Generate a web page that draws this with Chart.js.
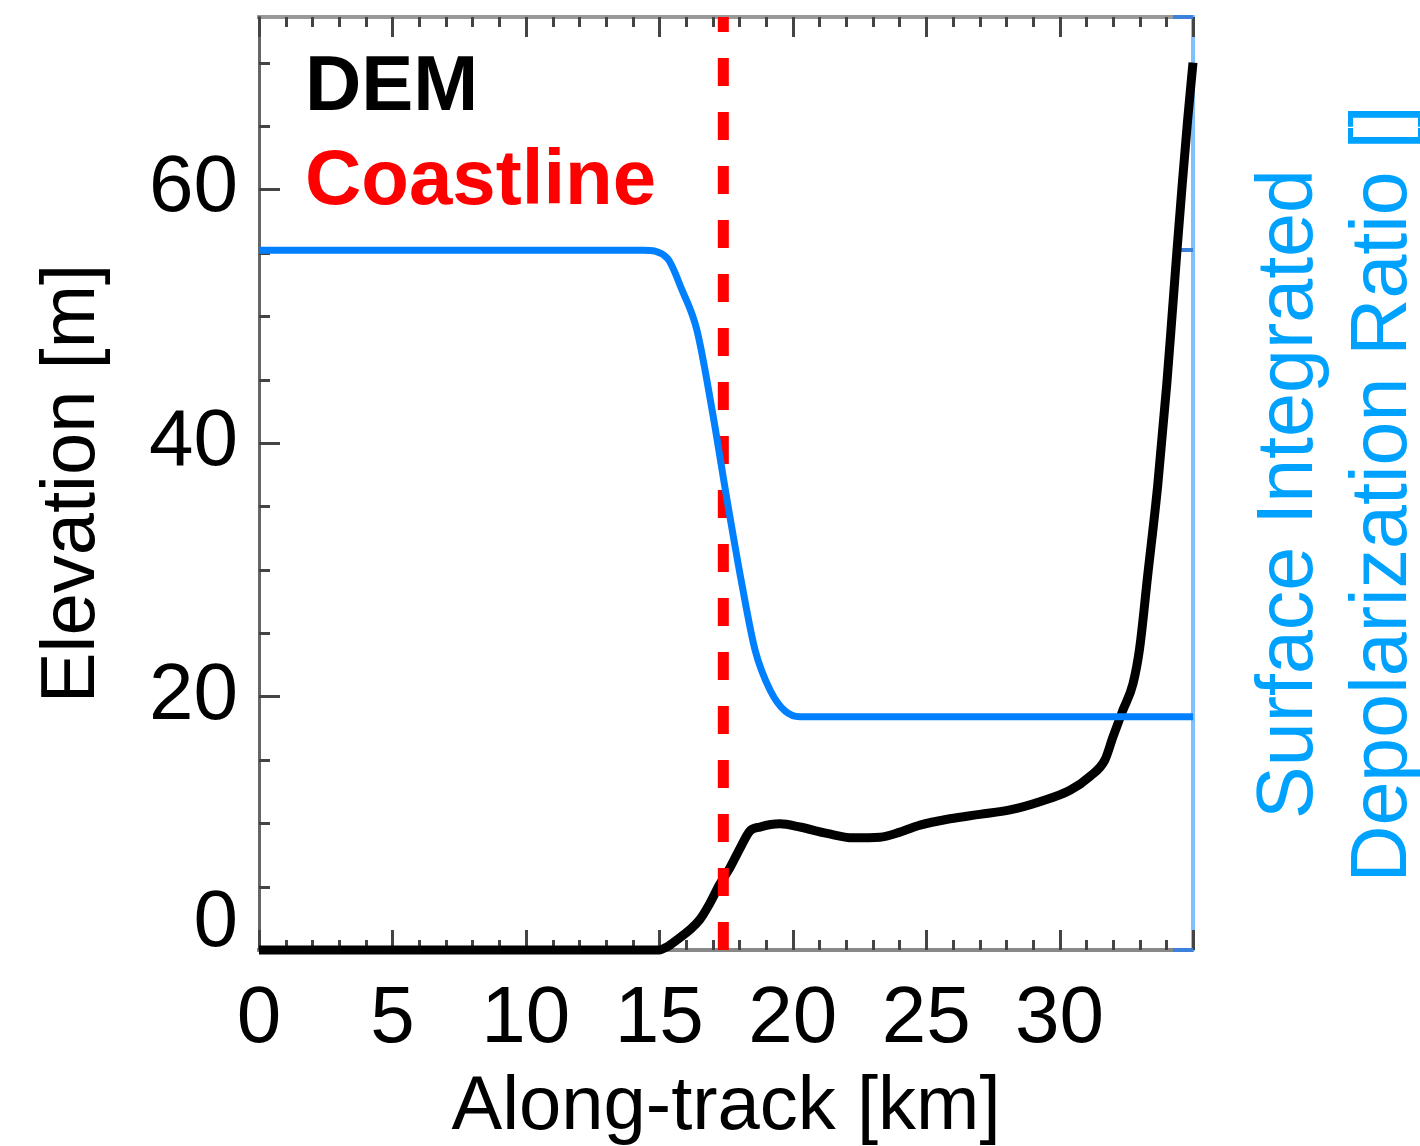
<!DOCTYPE html>
<html><head><meta charset="utf-8">
<script src="https://cdn.jsdelivr.net/npm/chart.js@4.4.1/dist/chart.umd.min.js"></script>
<style>html,body{margin:0;padding:0;background:#fff;}#wrap{width:1420px;height:1146px;}</style>
</head><body><div id="wrap"><canvas id="c" width="1420" height="1146"></canvas></div>
<script>
// ---- data ----
const demKm   = [0, 15.0, 15.29, 15.66, 16.15, 16.52, 16.9, 17.27, 17.65, 18.02, 18.4, 18.77, 19.52, 20.27, 21.28, 22.26, 23.27, 24.02, 24.77, 25.89, 27.01, 28.14, 29.26, 30.39, 31.14, 31.7, 32.0, 32.37, 32.75, 33.0, 33.3, 33.68, 34.02, 34.21, 34.4, 34.6, 34.8, 35.0];
const demElev = [0, 0, 0.25, 0.8, 1.6, 2.4, 3.7, 5.2, 6.5, 8.0, 9.4, 9.7, 9.95, 9.7, 9.2, 8.85, 8.9, 9.3, 9.85, 10.35, 10.7, 11.05, 11.7, 12.6, 13.7, 15.0, 16.8, 18.9, 21.0, 23.8, 29.5, 36.7, 44.7, 49.9, 55.2, 60.5, 65.5, 70.0];
const sidrKm    = [0, 14.39, 15.29, 15.85, 16.41, 16.98, 17.54, 18.10, 18.59, 19.15, 19.71, 20.27, 35.0];
const sidrValue = [0.300, 0.300, 0.2967, 0.2830, 0.2658, 0.2315, 0.1929, 0.1565, 0.1286, 0.1115, 0.1025, 0.1000, 0.1000];
const coastlineKm = 17.4;
const xTickLabels = [0, 5, 10, 15, 20, 25, 30];
const yTickLabels = [0, 20, 40, 60];
const xMinorTicks = [0,1,2,3,4,5,6,7,8,9,10,11,12,13,14,15,16,17,18,19,20,21,22,23,24,25,26,27,28,29,30,31,32,33,34,35];
const yMinorTicks = [0,5,10,15,20,25,30,35,40,45,50,55,60,65,70];
const rightTicks = [0, 0.3, 0.4];
const xRange = [0, 35];
const yRange = [0, 73.6];
const rightRange = [0, 0.4];
const xTitle = 'Along-track [km]';
const yTitle = 'Elevation [m]';
const rightTitle = ['Surface Integrated', 'Depolarization Ratio []'];
const legendTexts = ['DEM', 'Coastline'];

const FONT = "'Liberation Sans', Arial, Helvetica, sans-serif";
Chart.defaults.font.family = FONT;

const noPad = s => { s.paddingTop = 0; s.paddingBottom = 0; s.paddingLeft = 0; s.paddingRight = 0; };

const innerTicks = {
  id: 'innerTicks',
  beforeDatasetsDraw(chart) {
    const {ctx, chartArea: a, scales} = chart;
    ctx.save();
    ctx.lineWidth = 3;
    ctx.strokeStyle = '#444';
    ctx.beginPath();
    xMinorTicks.forEach(v => {
      const px = Math.round(scales.x.getPixelForValue(v)) + 0.5;
      const len = v % 5 === 0 ? 20 : 10;
      ctx.moveTo(px, a.top); ctx.lineTo(px, a.top + len);
      ctx.moveTo(px, a.bottom); ctx.lineTo(px, a.bottom - len);
    });
    yMinorTicks.forEach(v => {
      const py = Math.round(scales.y.getPixelForValue(v)) + 0.5;
      const len = v % 20 === 0 ? 21 : 11;
      ctx.moveTo(a.left, py); ctx.lineTo(a.left + len, py);
    });
    ctx.stroke();
    ctx.strokeStyle = '#3C82DC';
    ctx.lineWidth = 4;
    ctx.beginPath();
    rightTicks.forEach(v => {
      const py = Math.round(scales.yR.getPixelForValue(v));
      ctx.moveTo(a.right, py); ctx.lineTo(a.right - 20, py);
    });
    ctx.stroke();
    ctx.restore();
  },
  afterDraw(chart) {
    const {ctx} = chart;
    ctx.save();
    ctx.textAlign = 'left';
    ctx.textBaseline = 'alphabetic';
    ctx.font = `bold 78px ${FONT}`;
    ctx.fillStyle = '#000';
    ctx.fillText(legendTexts[0], 305, 110);
    ctx.fillStyle = '#FF0000';
    ctx.fillText(legendTexts[1], 305, 204);
    ctx.font = `79px ${FONT}`;
    ctx.fillStyle = '#00A2FF';
    ctx.textAlign = 'center';
    [[rightTitle[0], 1312], [rightTitle[1], 1406]].forEach(([t, x]) => {
      ctx.save();
      ctx.translate(x, 494);
      ctx.rotate(-Math.PI / 2);
      ctx.fillText(t, 0, 0);
      ctx.restore();
    });
    ctx.restore();
  }
};

new Chart(document.getElementById('c'), {
  type: 'line',
  data: {
    datasets: [
      { label: 'Surface Integrated Depolarization Ratio', data: sidrKm.map((x, i) => ({x, y: sidrValue[i]})), yAxisID: 'yR', xAxisID: 'x',
        borderColor: '#0080FF', borderWidth: 7, pointRadius: 0, cubicInterpolationMode: 'monotone', order: 1, clip: false },
      { label: legendTexts[1], data: [{x: coastlineKm, y: yRange[0]}, {x: coastlineKm, y: yRange[1]}], yAxisID: 'y', xAxisID: 'x',
        borderColor: '#FF0000', borderWidth: 11, borderDash: [28, 26], pointRadius: 0, tension: 0, order: 2 },
      { label: legendTexts[0], data: demKm.map((x, i) => ({x, y: demElev[i]})), yAxisID: 'y', xAxisID: 'x',
        borderColor: '#000000', borderWidth: 9, pointRadius: 0, cubicInterpolationMode: 'monotone', order: 3, clip: false }
    ]
  },
  options: {
    responsive: false,
    animation: false,
    layout: { padding: { top: 17, left: 0, right: 0, bottom: 0 } },
    plugins: { legend: { display: false }, tooltip: { enabled: false } },
    scales: {
      x: {
        type: 'linear', position: 'bottom', min: xRange[0], max: xRange[1],
        afterBuildTicks: s => { s.ticks = xTickLabels.map(v => ({value: v})); },
        ticks: { font: { size: 80 }, color: '#000', padding: 22, maxRotation: 0, autoSkip: false },
        grid: { drawOnChartArea: false, drawTicks: false },
        border: { color: '#888', width: 4 },
        title: { display: true, text: xTitle, color: '#000', font: { size: 76, lineHeight: 1 }, padding: { top: 0, bottom: 0 } },
        afterFit: s => { s.height = 196; noPad(s); }
      },
      xTop: {
        type: 'linear', position: 'top', min: xRange[0], max: xRange[1],
        ticks: { display: false },
        grid: { drawOnChartArea: false, drawTicks: false },
        border: { color: '#999', width: 4 },
        afterFit: s => { s.height = 0; noPad(s); }
      },
      y: {
        type: 'linear', position: 'left', min: yRange[0], max: yRange[1],
        afterBuildTicks: s => { s.ticks = yTickLabels.map(v => ({value: v})); },
        ticks: {
          color: '#000', padding: 21,
          font: c => (c.tick && c.tick.value === 0) ? { size: 80, lineHeight: 0.65 } : { size: 80 },
          callback: v => v === 0 ? ['0', ''] : String(v)
        },
        grid: { drawOnChartArea: false, drawTicks: false },
        border: { color: '#666', width: 3 },
        title: { display: true, text: yTitle, color: '#000', font: { size: 76, lineHeight: 1 }, padding: { top: 35, bottom: 0 } },
        afterFit: s => { s.width = 259; noPad(s); }
      },
      yR: {
        type: 'linear', position: 'right', min: rightRange[0], max: rightRange[1],
        ticks: { display: false },
        grid: { drawOnChartArea: false, drawTicks: false },
        border: { color: '#80C0FF', width: 4 },
        afterFit: s => { s.width = 227; noPad(s); }
      }
    }
  },
  plugins: [innerTicks]
});
</script>
</body></html>
